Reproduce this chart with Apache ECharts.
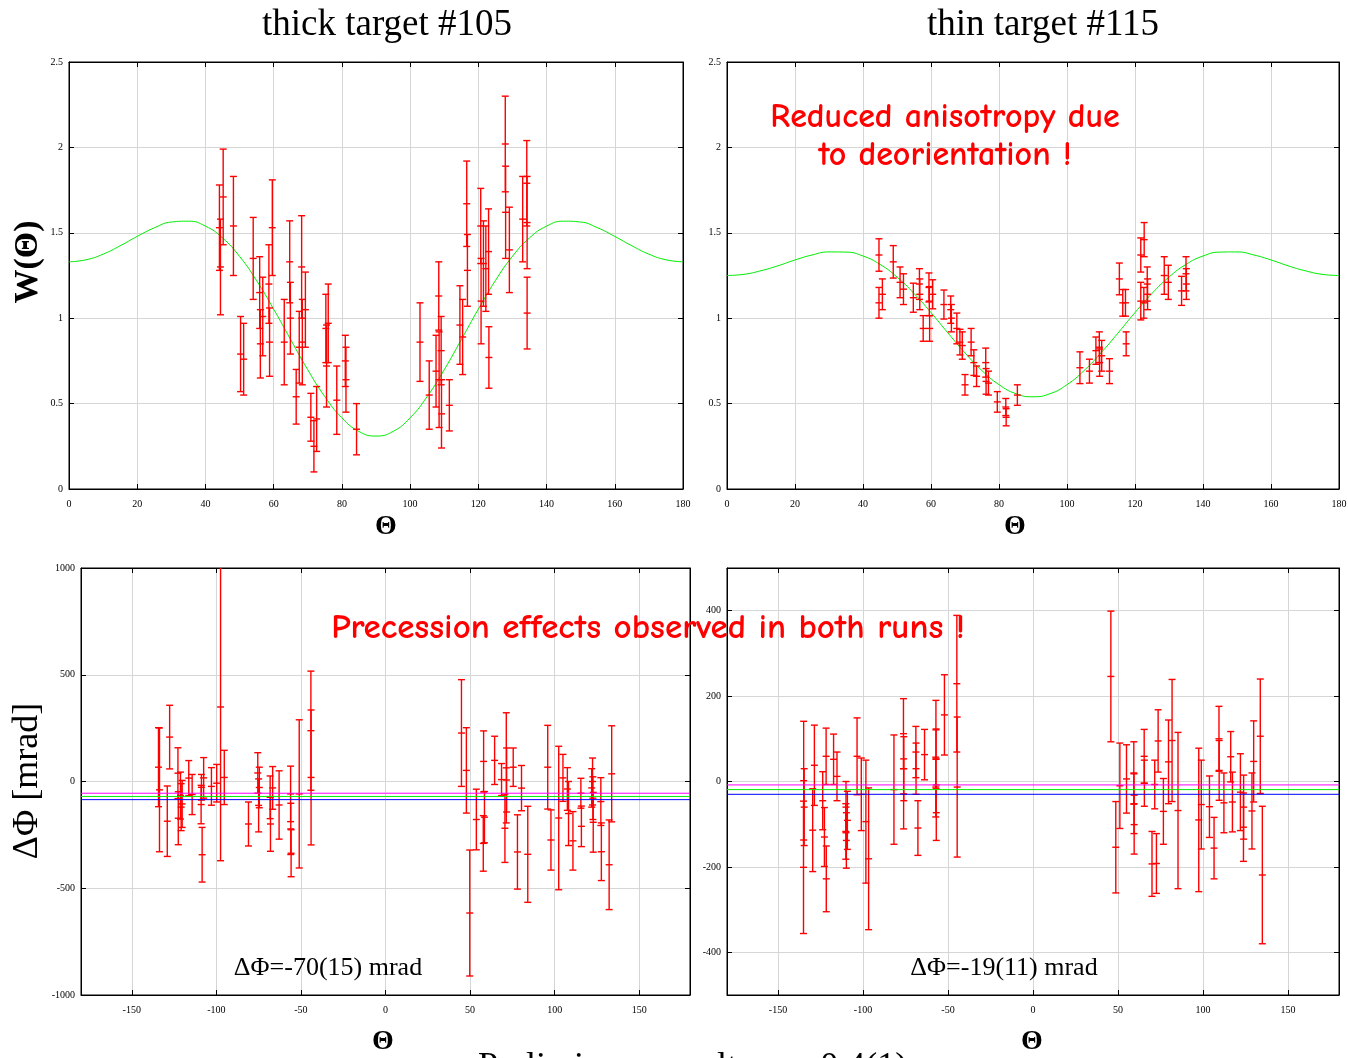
<!DOCTYPE html>
<html>
<head>
<meta charset="utf-8">
<script src="https://cdn.jsdelivr.net/npm/echarts@6/dist/echarts.min.js"></script>
<style>
  html, body { margin: 0; padding: 0; background: #fff; }
  #chart { width: 1348px; height: 1058px; }
</style>
</head>
<body>
<div id="chart"></div>
<script>
// Angular grid of the fitted W(Θ) curves (degrees)
const curveAngles = [0,5,10,15,20,25,30,35,40,45,50,55,60,65,70,75,80,85,90,
  95,100,105,110,115,120,125,130,135,140,145,150,155,160,165,170,175,180];

// Fitted angular distributions
const fitThick = [1.330,1.342,1.375,1.424,1.479,1.529,1.563,1.568,1.539,1.470,1.362,1.220,1.053,0.874,0.698,0.541,0.417,0.337,0.310,
  0.337,0.417,0.541,0.698,0.874,1.053,1.220,1.362,1.470,1.539,1.568,1.563,1.529,1.479,1.424,1.375,1.342,1.330];
const fitThin = [1.250,1.257,1.278,1.307,1.341,1.370,1.388,1.387,1.364,1.315,1.241,1.145,1.033,0.913,0.797,0.693,0.611,0.558,0.540,
  0.558,0.611,0.693,0.797,0.913,1.033,1.145,1.241,1.315,1.364,1.387,1.388,1.370,1.341,1.307,1.278,1.257,1.250];

// Measured W(Θ): [Θ, W, error], thick target #105
const thickW = [
  [44.1,1.53,0.25],[44.4,1.30,0.28],[45.2,1.71,0.28],[48.2,1.54,0.29],[50.3,0.79,0.22],
  [51.2,0.76,0.21],[54.0,1.35,0.24],[55.9,1.15,0.21],[56.1,0.85,0.20],[56.8,1.01,0.23],
  [58.6,1.20,0.23],[58.8,0.86,0.20],[59.6,1.53,0.28],[63.1,0.86,0.25],[64.7,1.33,0.24],
  [64.9,1.00,0.21],[66.6,0.54,0.16],[67.5,0.83,0.21],[68.2,1.30,0.30],[68.4,0.86,0.25],
  [69.3,1.05,0.22],[70.9,0.42,0.14],[71.8,0.25,0.15],[72.6,0.41,0.19],[75.3,0.94,0.20],
  [75.5,0.72,0.24],[76.0,0.97,0.23],[78.5,0.52,0.20],[81.0,0.75,0.15],[81.2,0.64,0.19],
  [84.3,0.35,0.15],
  [102.9,0.86,0.23],[105.6,0.55,0.20],[107.6,0.69,0.21],[108.4,1.13,0.20],[108.5,0.64,0.28],
  [109.1,0.81,0.20],[109.2,0.44,0.20],[111.5,0.49,0.15],[114.6,0.96,0.23],[115.4,0.89,0.22],
  [116.6,1.67,0.25],[116.8,1.28,0.21],[120.7,1.54,0.22],[120.8,1.10,0.25],[121.5,1.32,0.25],
  [122.2,1.29,0.25],[123.0,1.39,0.25],[123.1,0.77,0.18],[127.9,2.02,0.28],[128.0,1.62,0.27],
  [129.1,1.40,0.25],[133.0,1.58,0.25],[134.2,1.79,0.25],[134.3,1.56,0.27],[134.3,1.03,0.21]
];

// Measured W(Θ): [Θ, W, error], thin target #115
const thinW = [
  [44.7,1.37,0.095],[44.7,1.09,0.09],[45.7,1.14,0.09],[48.9,1.33,0.095],[50.9,1.21,0.09],
  [51.9,1.17,0.09],[54.8,1.12,0.085],[56.6,1.20,0.09],[56.7,1.14,0.09],[57.7,0.94,0.075],
  [59.4,1.18,0.085],[59.5,1.10,0.085],[59.6,0.94,0.075],[60.5,1.14,0.085],[63.8,1.08,0.085],
  [65.8,1.05,0.08],[66.0,1.00,0.08],[67.6,0.94,0.09],[68.5,0.86,0.075],[69.2,0.84,0.08],
  [70.0,0.61,0.06],[71.8,0.86,0.08],[72.6,0.74,0.075],[73.4,0.66,0.06],[76.1,0.74,0.085],
  [76.2,0.63,0.075],[76.9,0.62,0.07],[79.5,0.51,0.06],[82.0,0.48,0.05],[82.1,0.42,0.05],
  [85.4,0.55,0.06],
  [103.8,0.71,0.093],[106.6,0.69,0.07],[108.5,0.81,0.08],[109.5,0.83,0.09],[109.6,0.74,0.08],
  [110.2,0.78,0.09],[112.5,0.69,0.073],[115.4,1.23,0.093],[116.4,1.09,0.078],[117.2,1.09,0.078],
  [117.4,0.85,0.07],[121.7,1.37,0.10],[122.7,1.46,0.10],[121.7,1.10,0.11],[122.6,1.09,0.09],
  [123.6,1.20,0.10],[123.7,1.14,0.09],[128.6,1.25,0.11],[129.8,1.21,0.10],[133.7,1.16,0.085],
  [135.0,1.26,0.10],[135.1,1.20,0.09]
];

// Precession angle ΔΦ [mrad]: [Θ, ΔΦ, error], thick target
const thickDphi = [
  [-134.2,67,185],[-133.6,-39,290],[-129.0,-186,165],[-127.6,208,149],[-122.7,39,119],
  [-122.5,-172,124],[-121.2,-66,110],[-120.8,-120,110],[-120.2,-105,110],[-116.3,16,82],
  [-114.3,-61,94],[-109.0,-108,90],[-108.8,-27,60],[-108.4,-343,128],[-107.5,17,95],
  [-102.9,-23,88],[-99.8,-8,88],[-97.5,349,720],[-95.3,19,127],[-81.0,-199,103],
  [-75.5,40,95],[-75.0,-112,124],[-74.6,-28,95],[-68.2,-74,100],[-68.0,-199,128],
  [-66.7,-30,100],[-62.9,-110,160],[-56.1,-58,130],[-56.0,-222,120],[-55.8,-336,110],
  [-51.0,-58,347],[-44.1,238,279],[-44.0,19,316],
  [44.9,227,250],[47.8,52,200],[49.8,-616,295],[53.7,-178,142],[58.0,94,143],
  [58.5,-167,120],[57.8,-290,130],[64.5,99,113],[68.6,9,75],[70.6,-219,160],
  [71.4,64,258],[71.6,7,150],[75.5,67,90],[78.0,-330,174],[80.4,-31,106],
  [84.1,-341,225],[95.9,67,196],[97.8,-274,141],[102.4,-171,336],[104.9,17,110],
  [107.5,-35,100],[108.2,-150,150],[110.8,-278,137],[115.5,-55,70],[115.8,-210,95],
  [121.9,-30,90],[122.4,0,110],[122.6,-78,100],[122.8,-191,140],[127.3,-94,112],
  [127.6,-329,135],[132.2,-390,210],[133.7,36,225]
];

// Precession angle ΔΦ [mrad]: [Θ, ΔΦ, error], thin target
const thinDphi = [
  [-134.9,2,139],[-135.0,-201,155],[-134.6,-60,90],[-129.6,-114,97],[-128.6,38,94],
  [-123.7,-45,68],[-122.7,-130,69],[-121.7,59,66],[-121.6,-228,77],[-117.3,52,59],
  [-115.3,12,57],[-110.0,-60,60],[-110.1,-117,65],[-109.8,-138,65],[-109.2,-91,68],
  [-103.5,59,90],[-101.0,-30,85],[-98.3,-94,144],[-96.7,-181,166],[-81.8,-19,128],
  [-76.2,112,82],[-76.0,30,75],[-76.1,-29,82],[-68.9,69,60],[-68.8,30,60],
  [-67.7,-109,64],[-63.8,63,59],[-57.1,121,69],[-57.0,53,70],[-57.2,-13,70],
  [-56.9,-73,65],[-52.1,156,94],[-44.8,229,160],[-44.6,-13,164],
  [45.8,246,153],[48.7,-154,107],[51.1,-10,100],[55.0,6,80],[59.3,20,73],
  [59.4,-52,70],[59.5,-101,69],[65.4,59,63],[65.5,-4,54],[70.0,-193,76],
  [71.6,-7,57],[72.6,-192,70],[73.6,95,73],[76.7,-70,77],[79.7,46,98],
  [81.8,96,143],[85.3,-68,183],[97.5,-90,168],[99.0,-54,104],[103.8,-59,72],
  [106.5,-156,72],[109.4,100,76],[109.5,26,70],[112.3,-50,70],[116.3,58,59],
  [117.3,-48,70],[122.0,-25,90],[123.8,-107,80],[123.9,-60,75],[128.8,-69,89],
  [129.8,47,95],[133.7,106,134],[134.9,-219,161]
];

// Weighted mean precession and its uncertainty [mrad]
const thickMean = -70, thickMeanErr = 15;
const thinMean = -19, thinMeanErr = 11;

// Tick positions for the ΔΦ panels
const phiThetaTicks = [-150, -100, -50, 0, 50, 100, 150];
const thinPhiTicks = [-400, -200, 0, 200, 400];

const SERIF = '"Liberation Serif", "Times New Roman", serif';
const HAND = '"Comic Sans MS", "Comic Neue", cursive';
const RED = '#ff0000';

const chart = echarts.init(document.getElementById('chart'));

// Vertical error bar with end caps and a short tick at the measured value
function errorBar(params, api) {
  const x = api.value(0), y = api.value(1), e = api.value(2);
  const top = api.coord([x, y + e]);
  const bot = api.coord([x, y - e]);
  const mid = api.coord([x, y]);
  const c = 3.5;
  const seg = (x1, y1, x2, y2) => ({
    type: 'line',
    shape: { x1: x1, y1: y1, x2: x2, y2: y2 },
    style: { stroke: RED, lineWidth: 1.4, fill: null }
  });
  return {
    type: 'group',
    children: [
      seg(top[0], top[1], bot[0], bot[1]),
      seg(top[0] - c, top[1], top[0] + c, top[1]),
      seg(bot[0] - c, bot[1], bot[0] + c, bot[1]),
      seg(mid[0] - c, mid[1], mid[0] + c, mid[1])
    ]
  };
}

const tickLabel = { fontFamily: SERIF, fontSize: 10, color: '#000', formatter: v => String(v) };

function xAx(grid, min, max, interval, custom, pos) {
  const ax = {
    type: 'value', gridIndex: grid, min: min, max: max, position: pos || 'bottom',
    axisLine: { show: true, onZero: false, lineStyle: { color: '#000', width: 1 } },
    axisTick: { show: true, inside: true, length: 5, lineStyle: { color: '#000' } },
    axisLabel: Object.assign({ show: !pos, margin: 10 }, tickLabel),
    splitLine: { show: !pos, lineStyle: { color: '#d6d6d6', width: 1 } }
  };
  if (interval) ax.interval = interval;
  if (custom) { ax.axisTick.customValues = custom; ax.axisLabel.customValues = custom; }
  return ax;
}
function yAx(grid, min, max, interval, custom, pos) {
  const ax = {
    type: 'value', gridIndex: grid, min: min, max: max, position: pos || 'left',
    axisLine: { show: true, onZero: false, lineStyle: { color: '#000', width: 1 } },
    axisTick: { show: true, inside: true, length: 5, lineStyle: { color: '#000' } },
    axisLabel: Object.assign({ show: !pos, margin: 6 }, tickLabel),
    splitLine: { show: !pos, lineStyle: { color: '#d6d6d6', width: 1 } }
  };
  if (interval) ax.interval = interval;
  if (custom) { ax.axisTick.customValues = custom; ax.axisLabel.customValues = custom; }
  return ax;
}

// Horizontal level across the full Θ range of a ΔΦ panel
function level(axisIdx, value, color) {
  return {
    type: 'line', xAxisIndex: axisIdx, yAxisIndex: axisIdx,
    data: [[-180, value], [180, value]],
    showSymbol: false, silent: true, z: 5,
    lineStyle: { color: color, width: 1 }
  };
}

const zip = (xs, ys) => xs.map((x, i) => [x, ys[i]]);

function txt(x, y, text, font, opts) {
  return Object.assign({
    type: 'text', x: x, y: y, z: 100,
    style: Object.assign({ text: text, font: font, fill: '#000', align: 'center', verticalAlign: 'middle' }, (opts && opts.style) || {})
  }, (opts && opts.el) || {});
}

const option = {
  animation: false,
  backgroundColor: '#fff',
  grid: [
    { left: 69, top: 62, width: 614, height: 427, outerBoundsMode: 'none', show: true, borderColor: '#000', borderWidth: 1 },
    { left: 727, top: 62, width: 612, height: 427, outerBoundsMode: 'none', show: true, borderColor: '#000', borderWidth: 1 },
    { left: 81, top: 568, width: 609, height: 427, outerBoundsMode: 'none', show: true, borderColor: '#000', borderWidth: 1 },
    { left: 727, top: 568, width: 612, height: 427, outerBoundsMode: 'none', show: true, borderColor: '#000', borderWidth: 1 }
  ],
  xAxis: [
    xAx(0, 0, 180, 20), xAx(1, 0, 180, 20),
    xAx(2, -180, 180, null, phiThetaTicks), xAx(3, -180, 180, null, phiThetaTicks),
    xAx(0, 0, 180, 20, null, 'top'), xAx(1, 0, 180, 20, null, 'top'),
    xAx(2, -180, 180, null, phiThetaTicks, 'top'), xAx(3, -180, 180, null, phiThetaTicks, 'top')
  ],
  yAxis: [
    yAx(0, 0, 2.5, 0.5), yAx(1, 0, 2.5, 0.5),
    yAx(2, -1000, 1000, 500), yAx(3, -500, 500, null, thinPhiTicks),
    yAx(0, 0, 2.5, 0.5, null, 'right'), yAx(1, 0, 2.5, 0.5, null, 'right'),
    yAx(2, -1000, 1000, 500, null, 'right'), yAx(3, -500, 500, null, thinPhiTicks, 'right')
  ],
  series: [
    { type: 'line', xAxisIndex: 0, yAxisIndex: 0, data: zip(curveAngles, fitThick), smooth: 0.5,
      showSymbol: false, lineStyle: { color: '#00ee00', width: 1 }, z: 3 },
    { type: 'line', xAxisIndex: 1, yAxisIndex: 1, data: zip(curveAngles, fitThin), smooth: 0.5,
      showSymbol: false, lineStyle: { color: '#00ee00', width: 1 }, z: 3 },
    { type: 'custom', xAxisIndex: 0, yAxisIndex: 0, data: thickW, renderItem: errorBar, clip: true, z: 4,
      encode: { x: 0, y: 1 }, itemStyle: { color: RED } },
    { type: 'custom', xAxisIndex: 1, yAxisIndex: 1, data: thinW, renderItem: errorBar, clip: true, z: 4,
      encode: { x: 0, y: 1 }, itemStyle: { color: RED } },
    { type: 'custom', xAxisIndex: 2, yAxisIndex: 2, data: thickDphi, renderItem: errorBar, clip: true, z: 4,
      encode: { x: 0, y: 1 }, itemStyle: { color: RED } },
    { type: 'custom', xAxisIndex: 3, yAxisIndex: 3, data: thinDphi, renderItem: errorBar, clip: true, z: 4,
      encode: { x: 0, y: 1 }, itemStyle: { color: RED } },
    level(2, thickMean + thickMeanErr, '#ff00ff'),
    level(2, thickMean, '#00ee00'),
    level(2, thickMean - thickMeanErr, '#0000ff'),
    level(3, thinMean + thinMeanErr, '#ff00ff'),
    level(3, thinMean, '#00ee00'),
    level(3, thinMean - thinMeanErr, '#0000ff')
  ],
  graphic: [
    txt(387, 25, 'thick target #105', '37px ' + SERIF),
    txt(1043, 25, 'thin target #115', '37px ' + SERIF),
    txt(28, 262, 'W(Θ)', 'bold 34px ' + SERIF, { el: { rotation: Math.PI / 2 } }),
    txt(28, 781, 'ΔΦ [mrad]', '36px ' + SERIF, { el: { rotation: Math.PI / 2 } }),
    txt(386, 527, 'Θ', 'bold 28px ' + SERIF),
    txt(1015, 527, 'Θ', 'bold 28px ' + SERIF),
    txt(383, 1042, 'Θ', 'bold 28px ' + SERIF),
    txt(1032, 1042, 'Θ', 'bold 28px ' + SERIF),
    txt(945, 117, 'Reduced anisotropy due', 'bold 34px ' + HAND, { style: { fill: RED } }),
    txt(945, 155, 'to deorientation !', 'bold 34px ' + HAND, { style: { fill: RED } }),
    txt(648, 628, 'Precession effects observed in both runs !', 'bold 35px ' + HAND, { style: { fill: RED } }),
    txt(328, 968, 'ΔΦ=' + thickMean + '(' + thickMeanErr + ') mrad', '26px ' + SERIF),
    txt(1004, 968, 'ΔΦ=' + thinMean + '(' + thinMeanErr + ') mrad', '26px ' + SERIF),
    txt(478, 1050, 'Preliminary result   g = 0.4(1)', '36px ' + SERIF, { style: { align: 'left', verticalAlign: 'top' } })
  ]
};

chart.setOption(option);
</script>
</body>
</html>
